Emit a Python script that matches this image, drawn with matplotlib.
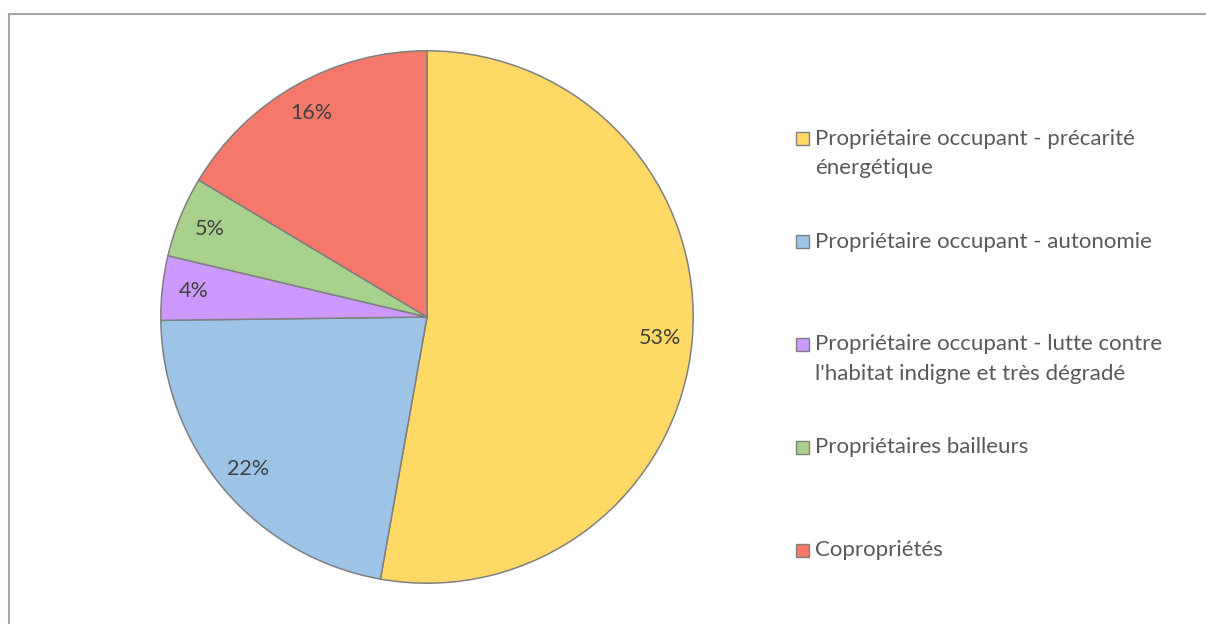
import matplotlib.pyplot as plt
from matplotlib.patches import Rectangle

# Data
labels = ['Propriétaire occupant - précarité\nénergétique',
          'Propriétaire occupant - autonomie',
          "Propriétaire occupant - lutte contre\nl'habitat indigne et très dégradé",
          'Propriétaires bailleurs',
          'Copropriétés']
values = [52.8, 22.0, 3.9, 4.9, 16.4]
colors = ['#FFD966', '#9DC3E6', '#CC99FF', '#A9D18E', '#F4796B']

W, H = 1206, 624
plt.rcParams['font.family'] = ['Lato', 'DejaVu Sans']
text_color = '#404040'

fig = plt.figure(figsize=(W / 100, H / 100), dpi=100)

# chart frame (runs off the right and bottom edges)
fig.patches.append(Rectangle((9 / W, -0.1), 1.2, (H - 14) / H + 0.1,
                             transform=fig.transFigure, fill=False,
                             edgecolor='#A6A6A6', linewidth=1.5))

cx, cy, r = 427, 317, 267
ax = fig.add_axes([(cx - r) / W, (H - cy - r) / H, 2 * r / W, 2 * r / H])
wedges, texts = ax.pie(values, colors=colors, startangle=90, counterclock=False,
                       labels=[f'{v:.0f}%' for v in values], labeldistance=0.88,
                       wedgeprops=dict(edgecolor='#7F7F7F', linewidth=1.1),
                       textprops=dict(color=text_color, fontsize=15.5))
for t in texts:
    t.set_horizontalalignment('center')
    t.set_verticalalignment('center')
ax.set_xlim(-1.003, 1.003)
ax.set_ylim(-1.003, 1.003)
ax.set_aspect('equal')

# legend drawn by hand
y0 = 139
step = 102.75
line_h = 29
sq = 13
for i, (lab, col) in enumerate(zip(labels, colors)):
    yc = y0 + i * step
    fig.patches.append(Rectangle((796 / W, (H - yc - sq / 2) / H), sq / W, sq / H,
                                 transform=fig.transFigure, facecolor=col,
                                 edgecolor='#7F7F7F', linewidth=1.0))
    for j, line in enumerate(lab.split('\n')):
        fig.text(815 / W, (H - yc - j * line_h) / H, line, color='#595959',
                 fontsize=16, va='center', ha='left')

fig.savefig('out.png', dpi=100)
